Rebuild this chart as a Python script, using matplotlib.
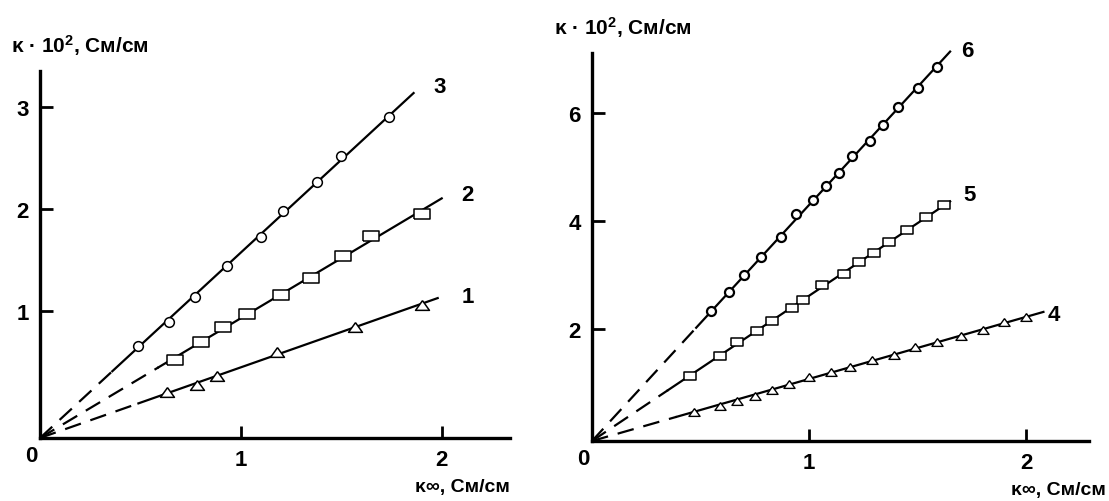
import numpy as np
import matplotlib
matplotlib.use('Agg')
import matplotlib.pyplot as plt

plt.rcParams['font.family'] = ['Liberation Sans', 'DejaVu Sans']
plt.rcParams['font.weight'] = 'bold'
plt.rcParams['mathtext.fontset'] = 'custom'
plt.rcParams['mathtext.rm'] = 'Liberation Sans:bold'
plt.rcParams['mathtext.it'] = 'Liberation Sans:bold'
plt.rcParams['mathtext.bf'] = 'Liberation Sans:bold'

# ---- left panel: curves 1, 2, 3 ----
x1 = [0.63, 0.78, 0.88, 1.18, 1.57, 1.90]
y1 = [0.21, 0.27, 0.36, 0.60, 0.84, 1.06]
x2 = [0.67, 0.80, 0.91, 1.03, 1.20, 1.35, 1.51, 1.65, 1.90]
y2 = [0.52, 0.70, 0.84, 0.97, 1.16, 1.32, 1.54, 1.73, 1.95]
x3 = [0.49, 0.64, 0.77, 0.93, 1.10, 1.21, 1.38, 1.50, 1.74]
y3 = [0.66, 0.89, 1.14, 1.44, 1.72, 1.98, 2.26, 2.52, 2.90]
span_left = [(0.49, 1.98), (0.59, 2.00), (0.36, 1.86)]
names_left = ['1', '2', '3']
label_pos_left = [(2.13, 1.14), (2.13, 2.14), (1.99, 3.20)]

# ---- right panel: curves 4, 5, 6 ----
x4 = [0.47, 0.59, 0.67, 0.75, 0.83, 0.91, 1.00, 1.10, 1.19, 1.29, 1.39,
      1.49, 1.59, 1.70, 1.80, 1.90, 2.00]
y4 = [0.46, 0.57, 0.67, 0.76, 0.87, 0.98, 1.11, 1.20, 1.30, 1.43, 1.52,
      1.67, 1.76, 1.87, 1.98, 2.13, 2.22]
x5 = [0.45, 0.59, 0.67, 0.76, 0.83, 0.92, 0.97, 1.06, 1.16, 1.23, 1.30,
      1.37, 1.45, 1.54, 1.62]
y5 = [1.13, 1.50, 1.76, 1.96, 2.15, 2.39, 2.54, 2.81, 3.02, 3.24, 3.41,
      3.61, 3.83, 4.07, 4.30]
x6 = [0.55, 0.63, 0.70, 0.78, 0.87, 0.94, 1.02, 1.08, 1.14, 1.20, 1.28,
      1.34, 1.41, 1.50, 1.59]
y6 = [2.33, 2.69, 3.00, 3.33, 3.70, 4.13, 4.39, 4.65, 4.89, 5.20, 5.48,
      5.78, 6.11, 6.46, 6.85]
span_right = [(0.39, 2.08), (0.35, 1.65), (0.48, 1.65)]
names_right = ['4', '5', '6']
label_pos_right = [(2.13, 2.28), (1.74, 4.50), (1.73, 7.15)]

ylabel = 'κ · 10$^2$, См/см'
xlabel = 'κ∞, См/см'

# marker shapes (wide rectangles / flat triangles as in the scan)
rect = [(-1, -0.6), (1, -0.6), (1, 0.6), (-1, 0.6), (-1, -0.6)]
tri = [(0, 0.7), (-1, -0.7), (1, -0.7), (0, 0.7)]
oval = 'o'

fig = plt.figure(figsize=(11.09, 5.02), dpi=100)
W, H = 1109, 502
axL = fig.add_axes([40 / W, (H - 439) / H, 470 / W, (439 - 72) / H])
axR = fig.add_axes([592 / W, (H - 442) / H, 497 / W, (442 - 54) / H])


def draw_panel(ax, series, spans, names, lpos, y0, xmax, ymax, yticks, mstyle, ylab_off, xlab_off):
    ax.set_xlim(0, xmax)
    ax.set_ylim(y0, ymax)
    for (xs, ys), (a, b), (m, ms, mew) in zip(series, spans, mstyle):
        xs = np.array(xs)
        ys = np.array(ys)
        # line through the common corner of the axes
        k = np.sum(xs * (ys - y0)) / np.sum(xs * xs)
        xd = np.array([0, a])
        ax.plot(xd, y0 + k * xd, color='black', lw=1.6, linestyle=(0, (7.5, 4.5)),
                clip_on=False)
        xl = np.array([a, b])
        ax.plot(xl, y0 + k * xl, color='black', lw=1.6, clip_on=False)
        ax.plot(xs, ys, linestyle='none', marker=m, ms=ms, mfc='white', mec='black',
                mew=mew, zorder=3, clip_on=False)
    for n, (tx, ty) in zip(names, lpos):
        ax.text(tx, ty, n, fontsize=16, ha='center', va='center')
    for s in ['top', 'right']:
        ax.spines[s].set_visible(False)
    for s in ['left', 'bottom']:
        ax.spines[s].set_linewidth(2.4)
    ax.set_xticks([1, 2])
    ax.set_yticks(yticks)
    ax.tick_params(direction='in', length=9, width=2, labelsize=16, pad=8)
    ax.annotate('0', xy=(0, y0), xytext=(-6, -5), textcoords='offset points',
                fontsize=16, ha='center', va='top')
    ax.annotate(ylabel, xy=(0, ymax), xycoords='data',
                xytext=ylab_off, textcoords='offset points', fontsize=15,
                ha='left', va='bottom', annotation_clip=False)
    ax.annotate(xlabel, xy=(xmax, y0), xytext=xlab_off,
                textcoords='offset points', fontsize=14, ha='right', va='top',
                annotation_clip=False)


draw_panel(axL, [(x1, y1), (x2, y2), (x3, y3)], span_left, names_left, label_pos_left,
           -0.245, 2.34, 3.35, [1, 2, 3],
           [(tri, 10, 1.1), (rect, 11, 1.1), (oval, 7, 1.1)], (-21, 10), (0, -29))
draw_panel(axR, [(x4, y4), (x5, y5), (x6, y6)], span_right, names_right, label_pos_right,
           -0.07, 2.29, 7.11, [2, 4, 6],
           [(tri, 8, 1.0), (rect, 9, 1.1), (oval, 6.5, 1.6)], (-27, 10), (12, -29))

fig.savefig('out.png', dpi=100)
